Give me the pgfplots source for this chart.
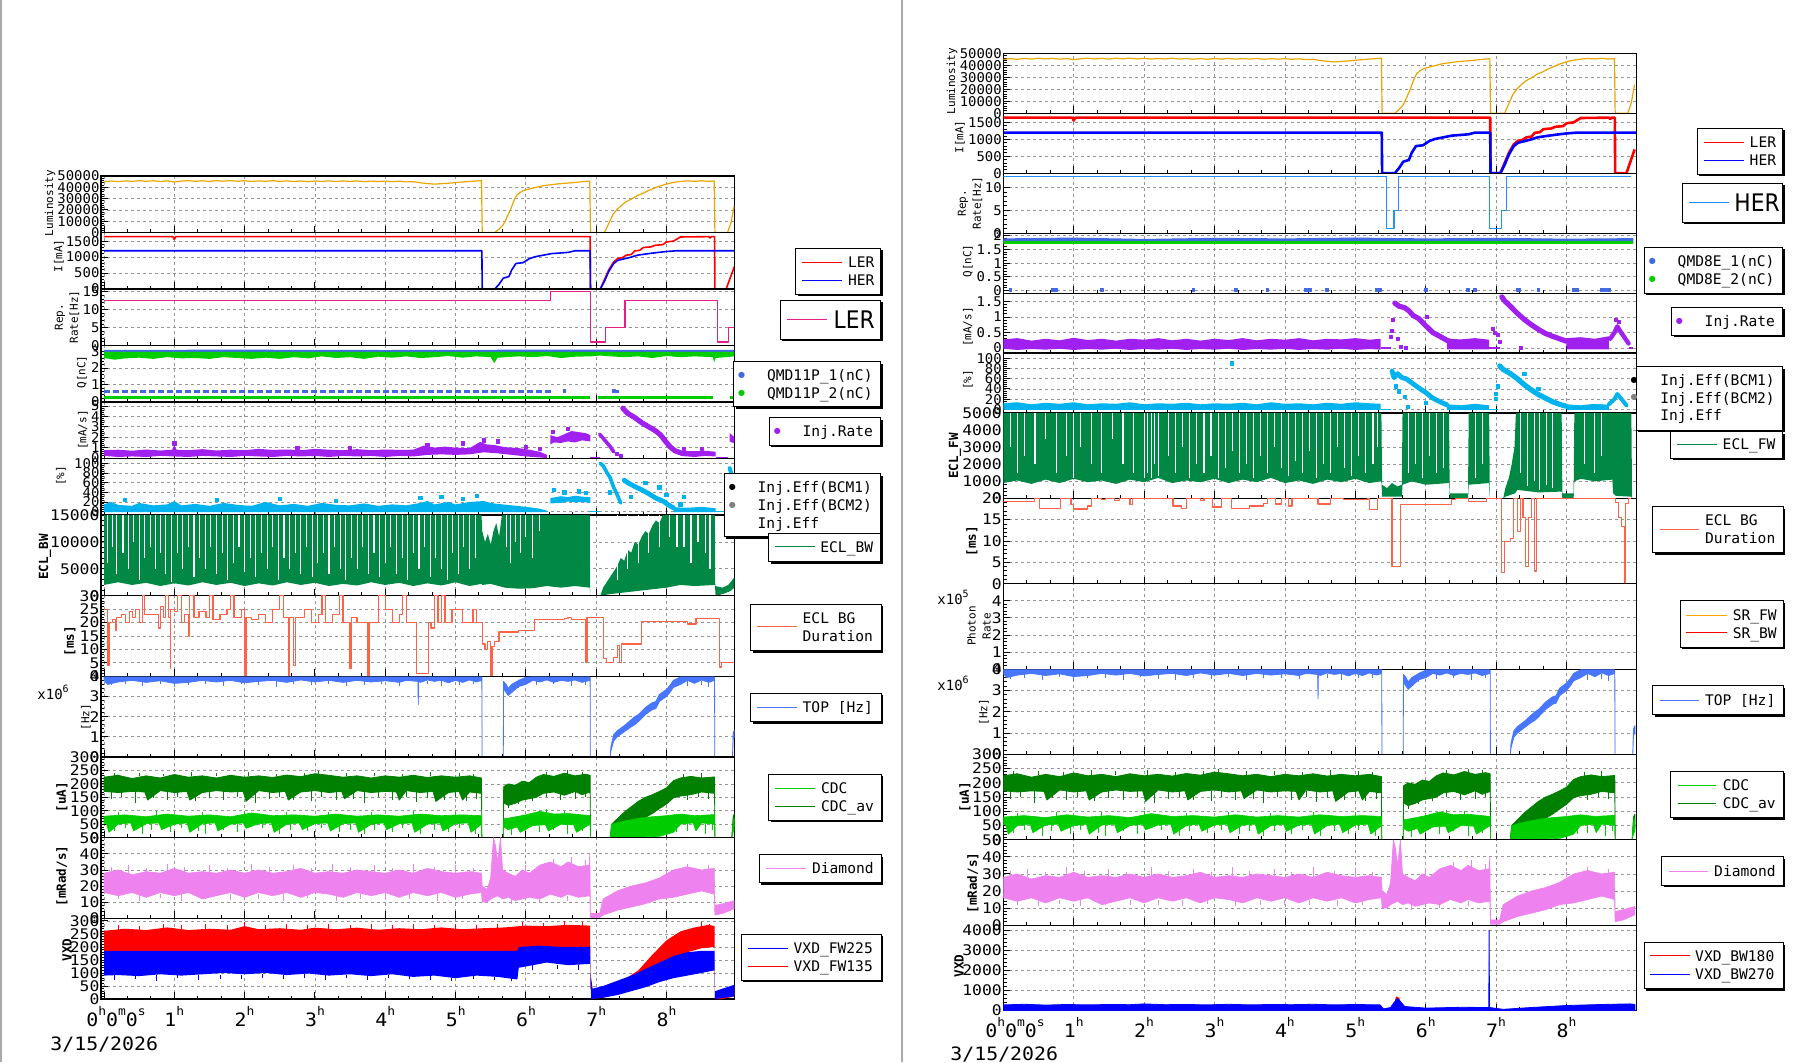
\documentclass[border=0pt]{standalone}
\usepackage{pgfplots}
\pgfplotsset{compat=1.18}
\usepackage{pgfplotstable}
\usepackage{fontspec}
\setmainfont{DejaVu Sans}
\setmonofont{DejaVu Sans Mono}
\newfontfamily\tickfont[FakeStretch=1.12]{DejaVu Sans Mono}
\newfontfamily\tickfontS[FakeStretch=1.04]{DejaVu Sans Mono}
\newfontfamily\timefont[FakeStretch=1.08]{DejaVu Sans Mono}
\newfontfamily\bigfont[FakeStretch=0.9]{DejaVu Sans}

\definecolor{lumc}{RGB}{235,165,0}
\definecolor{reppink}{RGB}{230,30,140}
\definecolor{rephb}{RGB}{30,144,255}
\definecolor{qblue}{RGB}{65,105,225}
\definecolor{qgreen}{RGB}{0,205,0}
\definecolor{injp}{RGB}{160,32,240}
\definecolor{effc}{RGB}{0,178,238}
\definecolor{eclg}{RGB}{0,136,68}
\definecolor{bgc}{RGB}{255,99,71}
\definecolor{topc}{RGB}{72,118,255}
\definecolor{cdcc}{RGB}{0,205,0}
\definecolor{cdcav}{RGB}{0,128,0}
\definecolor{diac}{RGB}{238,130,238}
\definecolor{gridc}{RGB}{150,150,150}
\definecolor{srfw}{RGB}{255,165,0}
\definecolor{canv}{RGB}{170,170,170}

\pgfplotsset{
 strip/.style={scale only axis, anchor=south west,
  xtick={0,1,2,3,4,5,6,7,8}, minor x tick num=2, xticklabels={},
  tick pos=left, tick align=inside,
  major tick length=3.5pt, minor tick length=1.7pt,
  every tick/.style={black, line width=0.45pt},
  xmajorgrids, ymajorgrids,
  major grid style={gridc, line width=0.4pt, dash pattern=on 1.5pt off 1.5pt},
  axis line style={line width=0.6pt},
  minor y tick num=4, scaled y ticks=false,
  yticklabel style={font=\tickfont\fontsize{7.3}{7.3}\selectfont, inner sep=0.6pt},
  /pgf/number format/1000 sep={},
  /pgf/number format/assume math mode=true,
  every axis plot/.append style={line join=round}},
 sm/.style={yticklabel style={font=\tickfontS\fontsize{6.7}{6.7}\selectfont}},
 L/.style 2 args={strip, xmin=-0.043, xmax=8.966, width=316.65pt, height=#2, at={(50.5pt,-#1)}},
 R/.style 2 args={strip, xmin=0, xmax=8.99, width=316.5pt, height=#2, at={(501.65pt,-#1)}},
 gaps/.style={draw=none, mark=none, error bars/.cd, y dir=plus, y explicit, error mark=none,
   error bar style={draw=white, line width=0.55pt}},
 spk/.style={draw=none, mark=none, error bars/.cd, y dir=plus, y explicit, error mark=none,
   error bar style={draw=#1, line width=0.5pt}},
}

% ---------------- data ----------------
\pgfplotstableread[row sep=\\]{t v\\
0 44800\\ 0.1 45600\\ 0.2 45000\\ 0.3 45700\\ 0.4 45200\\ 0.5 45900\\ 0.6 45300\\ 0.7 45800\\ 0.8 45100\\ 0.9 45700\\
1.0 44700\\ 1.1 45500\\ 1.2 45900\\ 1.3 45300\\ 1.4 45800\\ 1.5 45200\\ 1.6 45900\\ 1.7 45400\\ 1.8 46000\\ 1.9 45300\\
2.0 45800\\ 2.1 45200\\ 2.2 45700\\ 2.3 45300\\ 2.4 45900\\ 2.5 45200\\ 2.6 45700\\ 2.7 45100\\ 2.8 45600\\ 2.9 45000\\
3.0 45600\\ 3.1 45200\\ 3.2 45700\\ 3.3 45100\\ 3.4 45600\\ 3.5 45200\\ 3.6 45700\\ 3.7 45000\\ 3.8 45500\\ 3.9 45100\\
4.0 45500\\ 4.1 45000\\ 4.2 45400\\ 4.3 44800\\ 4.4 45000\\ 4.5 44000\\ 4.6 43300\\ 4.7 42800\\ 4.8 43200\\ 4.9 43600\\
5.0 44200\\ 5.1 44700\\ 5.2 45200\\ 5.3 45600\\ 5.37 45900\\ 5.38 0\\ 5.56 0\\ 5.62 3000\\ 5.68 7000\\ 5.72 12000\\
5.78 20000\\ 5.83 28000\\ 5.87 33000\\ 5.92 35500\\ 5.97 37200\\ 6.05 38500\\ 6.15 40000\\ 6.25 41500\\ 6.35 42200\\ 6.45 43000\\
6.55 43500\\ 6.65 44000\\ 6.75 44600\\ 6.85 45200\\ 6.91 45500\\ 6.92 0\\ 7.12 0\\ 7.18 8000\\ 7.24 16000\\ 7.3 20500\\
7.36 24000\\ 7.42 27000\\ 7.5 29500\\ 7.58 32500\\ 7.66 34500\\ 7.74 37000\\ 7.82 39000\\ 7.9 41000\\ 7.98 42500\\ 8.06 43800\\
8.14 44700\\ 8.22 45300\\ 8.3 45700\\ 8.4 45300\\ 8.5 45800\\ 8.6 45200\\ 8.68 45600\\ 8.69 0\\ 8.87 0\\ 8.92 9000\\ 8.966 24000\\
}\lumtab

\pgfplotstableread[row sep=\\]{t v\\
0 1640\\ 0.98 1640\\ 1.0 1555\\ 1.02 1640\\ 6.915 1640\\ 6.92 0\\ 7.06 0\\ 7.12 300\\ 7.18 600\\ 7.25 850\\ 7.31 960\\
7.37 980\\ 7.43 1060\\ 7.5 1080\\ 7.55 1195\\ 7.62 1210\\ 7.67 1300\\ 7.78 1320\\ 7.84 1370\\ 7.95 1390\\ 8.0 1475\\
8.1 1500\\ 8.2 1630\\ 8.6 1640\\ 8.62 1600\\ 8.64 1640\\ 8.685 1640\\ 8.69 0\\ 8.85 0\\ 8.966 700\\
}\lertab

\pgfplotstableread[row sep=\\]{t v\\
0 1200\\ 5.375 1200\\ 5.38 0\\ 5.56 0\\ 5.62 150\\ 5.68 340\\ 5.76 390\\ 5.8 600\\ 5.86 800\\ 5.96 825\\ 6.05 950\\
6.13 1010\\ 6.25 1060\\ 6.37 1110\\ 6.5 1130\\ 6.61 1150\\ 6.7 1200\\ 6.915 1200\\ 6.92 0\\ 7.06 0\\ 7.12 250\\ 7.18 550\\
7.25 800\\ 7.31 900\\ 7.43 960\\ 7.5 1000\\ 7.59 1060\\ 7.75 1110\\ 7.9 1150\\ 8.0 1175\\ 8.16 1200\\ 8.99 1200\\
}\hertab

\pgfplotstableread[row sep=\\]{t v\\
0 3.97\\ 5.375 3.97\\ 5.378 0\\ 5.68 0\\ 5.683 3.75\\ 5.72 3.6\\ 5.75 3.4\\ 5.8 3.6\\ 5.9 3.8\\ 6.0 3.95\\ 6.1 3.97\\
6.915 3.97\\ 6.918 0\\ 7.2 0\\ 7.21 0.5\\ 7.25 1.1\\ 7.3 1.3\\ 7.4 1.55\\ 7.5 1.85\\ 7.55 2.0\\ 7.6 2.1\\ 7.7 2.45\\
7.8 2.7\\ 7.85 2.75\\ 7.9 3.1\\ 8.0 3.35\\ 8.05 3.55\\ 8.1 3.8\\ 8.2 3.97\\ 8.685 3.97\\ 8.688 0\\ 8.94 0\\ 8.95 1.2\\ 8.97 1.35\\
8.97 1.0\\ 8.95 0.9\\ 8.94 0\\ 8.688 0\\ 8.685 3.8\\ 8.6 3.7\\ 8.5 3.82\\ 8.4 3.65\\ 8.3 3.8\\ 8.2 3.6\\ 8.1 3.45\\
8.05 3.2\\ 8.0 3.0\\ 7.9 2.75\\ 7.85 2.4\\ 7.8 2.35\\ 7.7 2.1\\ 7.6 1.75\\ 7.55 1.6\\ 7.5 1.5\\ 7.4 1.25\\ 7.3 1.0\\
7.25 0.8\\ 7.21 0.3\\ 7.2 0\\ 6.918 0\\ 6.915 3.8\\ 6.8 3.7\\ 6.7 3.82\\ 6.6 3.75\\ 6.5 3.8\\ 6.4 3.7\\ 6.3 3.82\\
6.2 3.72\\ 6.1 3.8\\ 6.0 3.6\\ 5.9 3.5\\ 5.8 3.2\\ 5.75 3.05\\ 5.7 3.3\\ 5.683 3.5\\ 5.68 0\\ 5.378 0\\ 5.375 3.8\\
5.3 3.72\\ 5.2 3.82\\ 5.1 3.7\\ 5.0 3.8\\ 4.9 3.68\\ 4.8 3.8\\ 4.7 3.75\\ 4.6 3.82\\ 4.5 3.7\\ 4.475 3.75\\ 4.47 2.6\\
4.465 3.75\\ 4.3 3.8\\ 4.2 3.7\\ 4.0 3.78\\ 3.8 3.72\\ 3.6 3.8\\ 3.4 3.7\\ 3.2 3.8\\ 3.0 3.72\\ 2.8 3.82\\ 2.6 3.7\\
2.4 3.8\\ 2.2 3.75\\ 2.0 3.68\\ 1.8 3.8\\ 1.6 3.72\\ 1.4 3.8\\ 1.2 3.7\\ 1.0 3.65\\ 0.8 3.78\\ 0.6 3.7\\ 0.4 3.8\\
0.2 3.72\\ 0.05 3.6\\ 0 3.8\\
}\toptab

\pgfplotstableread[row sep=\\]{t lo hi\\
0.1 3.55 3.75\\ 0.3 3.6 3.75\\ 0.55 3.5 3.75\\ 0.8 3.62 3.75\\ 1.0 3.45 3.75\\ 1.2 3.58 3.75\\ 1.45 3.6 3.75\\
1.7 3.5 3.75\\ 1.95 3.62 3.75\\ 2.2 3.55 3.75\\ 2.45 3.48 3.75\\ 2.7 3.6 3.75\\ 2.95 3.55 3.75\\ 3.2 3.62 3.75\\
3.45 3.5 3.75\\ 3.7 3.58 3.75\\ 3.95 3.6 3.75\\ 4.2 3.52 3.75\\ 4.6 3.6 3.75\\ 4.8 3.5 3.75\\ 5.05 3.58 3.75\\
5.25 3.6 3.75\\ 5.9 3.4 3.75\\ 6.15 3.55 3.75\\ 6.4 3.6 3.75\\ 6.65 3.5 3.75\\ 6.85 3.58 3.75\\ 8.3 3.5 3.75\\
8.5 3.55 3.75\\ 8.6 3.45 3.75\\
}\topspk

\pgfplotstableread[row sep=\\]{t v\\
0 225\\ 0.2 232\\ 0.4 220\\ 0.6 230\\ 0.8 222\\ 1.0 235\\ 1.2 225\\ 1.4 230\\ 1.6 222\\ 1.8 232\\ 2.0 225\\ 2.2 230\\
2.4 224\\ 2.6 233\\ 2.8 227\\ 3.0 238\\ 3.2 232\\ 3.4 225\\ 3.6 230\\ 3.8 222\\ 4.0 230\\ 4.2 225\\ 4.4 232\\ 4.6 224\\
4.8 230\\ 5.0 225\\ 5.2 230\\ 5.37 222\\ 5.375 0\\ 5.68 0\\ 5.685 190\\ 5.75 200\\ 5.85 195\\ 5.95 210\\ 6.05 205\\
6.15 225\\ 6.25 235\\ 6.4 228\\ 6.55 240\\ 6.7 230\\ 6.85 236\\ 6.915 232\\ 6.92 0\\ 7.2 0\\ 7.22 50\\ 7.3 70\\ 7.4 95\\
7.5 115\\ 7.6 135\\ 7.7 150\\ 7.8 160\\ 7.9 172\\ 8.0 185\\ 8.1 212\\ 8.2 222\\ 8.35 228\\ 8.5 222\\ 8.685 226\\ 8.69 0\\
8.93 0\\ 8.95 80\\ 8.97 90\\
8.97 40\\ 8.95 45\\ 8.93 0\\ 8.69 0\\ 8.685 165\\ 8.5 170\\ 8.35 160\\ 8.2 155\\ 8.1 148\\ 8.0 125\\ 7.9 108\\ 7.8 90\\
7.7 75\\ 7.6 68\\ 7.5 55\\ 7.4 45\\ 7.3 35\\ 7.22 20\\ 7.2 0\\ 6.92 0\\ 6.915 170\\ 6.8 160\\ 6.7 172\\ 6.55 158\\
6.4 170\\ 6.25 165\\ 6.15 150\\ 6.05 145\\ 5.95 140\\ 5.85 128\\ 5.75 120\\ 5.685 130\\ 5.68 0\\ 5.375 0\\ 5.37 165\\
5.2 170\\ 5.1 140\\ 5.05 172\\ 4.9 168\\ 4.72 135\\ 4.68 172\\ 4.5 168\\ 4.3 175\\ 4.2 140\\ 4.16 170\\ 4.0 172\\
3.8 168\\ 3.6 175\\ 3.42 145\\ 3.38 172\\ 3.2 168\\ 3.0 175\\ 2.8 170\\ 2.62 140\\ 2.58 172\\ 2.4 168\\ 2.2 175\\
2.02 135\\ 1.98 172\\ 1.8 170\\ 1.6 175\\ 1.4 168\\ 1.22 140\\ 1.18 172\\ 1.0 168\\ 0.8 175\\ 0.62 140\\ 0.58 170\\
0.4 172\\ 0.2 168\\ 0 172\\
}\cdcavtab

\pgfplotstableread[row sep=\\]{t lo hi\\
0.1 145 172\\ 0.25 150 172\\ 0.45 130 172\\ 0.7 148 172\\ 0.9 140 172\\ 1.05 150 172\\ 1.3 135 172\\ 1.5 148 172\\
1.7 140 172\\ 1.9 150 172\\ 2.15 130 172\\ 2.35 145 172\\ 2.5 150 172\\ 2.7 140 172\\ 2.95 135 172\\ 3.1 150 172\\
3.3 140 172\\ 3.55 145 172\\ 3.7 130 172\\ 3.9 150 172\\ 4.1 140 172\\ 4.3 150 172\\ 4.45 132 172\\ 4.6 148 172\\
4.85 140 172\\ 5.0 150 172\\ 5.15 138 172\\ 5.3 145 172\\ 5.75 110 150\\ 5.9 125 150\\ 6.1 135 160\\ 6.3 150 170\\
6.5 140 170\\ 6.7 145 170\\ 6.85 150 170\\ 8.3 140 165\\ 8.45 150 170\\ 8.6 145 170\\
0.15 228 240\\ 0.5 228 242\\ 0.85 228 238\\ 1.25 228 244\\ 1.6 228 240\\ 2.05 228 245\\ 2.45 228 238\\ 2.85 228 242\\
3.05 228 248\\ 3.45 228 240\\ 3.85 228 242\\ 4.25 228 238\\ 4.65 228 244\\ 5.05 228 240\\ 5.25 228 238\\ 6.3 230 245\\
6.6 232 250\\ 6.8 232 246\\ 8.25 222 238\\ 8.5 222 240\\
}\cdcavspk

\pgfplotstableread[row sep=\\]{t v\\
0 80\\ 0.3 85\\ 0.6 78\\ 0.9 88\\ 1.2 80\\ 1.5 85\\ 1.8 78\\ 2.1 92\\ 2.4 82\\ 2.7 85\\ 3.0 80\\ 3.3 88\\ 3.6 80\\
3.9 85\\ 4.2 80\\ 4.5 88\\ 4.8 82\\ 5.1 85\\ 5.37 82\\ 5.375 0\\ 5.68 0\\ 5.685 70\\ 5.8 75\\ 5.9 80\\ 6.0 85\\ 6.2 98\\
6.4 88\\ 6.6 90\\ 6.8 85\\ 6.915 82\\ 6.92 0\\ 7.2 0\\ 7.22 50\\ 7.4 62\\ 7.6 72\\ 7.8 78\\ 8.0 82\\ 8.2 88\\ 8.4 82\\
8.685 86\\ 8.69 0\\ 8.93 0\\ 8.95 60\\ 8.97 75\\
8.97 30\\ 8.95 20\\ 8.93 0\\ 8.69 0\\ 8.685 50\\ 8.5 55\\ 8.42 25\\ 8.38 55\\ 8.2 50\\ 8.1 20\\ 8.0 12\\ 7.9 5\\
7.22 0\\ 7.2 0\\ 6.92 0\\ 6.915 50\\ 6.72 20\\ 6.68 48\\ 6.5 50\\ 6.32 25\\ 6.28 48\\ 6.1 45\\ 5.92 20\\ 5.88 40\\
5.75 30\\ 5.685 40\\ 5.68 0\\ 5.375 0\\ 5.37 50\\ 5.22 20\\ 5.18 55\\ 5.0 52\\ 4.82 25\\ 4.78 55\\ 4.6 50\\ 4.42 20\\
4.38 55\\ 4.2 52\\ 4.02 30\\ 3.98 55\\ 3.8 50\\ 3.62 20\\ 3.58 55\\ 3.4 52\\ 3.22 25\\ 3.18 55\\ 3.0 52\\ 2.82 30\\
2.78 55\\ 2.6 50\\ 2.42 20\\ 2.38 55\\ 2.2 52\\ 2.02 35\\ 1.98 55\\ 1.8 50\\ 1.62 25\\ 1.58 55\\ 1.4 52\\ 1.22 20\\
1.18 55\\ 1.0 50\\ 0.82 30\\ 0.78 55\\ 0.6 52\\ 0.42 25\\ 0.38 55\\ 0.2 50\\ 0.07 20\\ 0.03 55\\ 0 52\\
}\cdctab

\pgfplotstableread[row sep=\\]{t lo hi\\
0.15 25 52\\ 0.3 35 52\\ 0.55 15 52\\ 0.68 30 52\\ 0.95 20 52\\ 1.1 35 52\\ 1.35 25 52\\ 1.45 15 52\\ 1.7 30 52\\
1.9 20 52\\ 2.25 35 52\\ 2.5 15 52\\ 2.65 30 52\\ 2.9 25 52\\ 3.1 35 52\\ 3.35 20 52\\ 3.5 30 52\\ 3.7 15 52\\
3.85 30 52\\ 4.1 20 52\\ 4.25 35 52\\ 4.5 15 52\\ 4.7 30 52\\ 4.9 20 52\\ 5.05 35 52\\ 5.28 15 52\\ 5.8 10 40\\
5.95 25 45\\ 6.2 20 45\\ 6.4 30 50\\ 6.6 15 50\\ 6.8 25 50\\ 8.15 20 50\\ 8.3 25 50\\ 8.55 15 50\\ 8.65 30 50\\
0.2 82 95\\ 0.75 80 98\\ 1.4 82 96\\ 2.0 82 100\\ 2.6 82 95\\ 3.2 82 97\\ 3.8 82 95\\ 4.4 82 99\\ 5.0 82 96\\
6.3 88 105\\ 6.55 88 100\\
}\cdcspk

\pgfplotstableread[row sep=\\]{t v\\
0 28\\ 0.2 30\\ 0.4 27\\ 0.6 29\\ 0.8 28\\ 1.0 31\\ 1.2 28\\ 1.4 29\\ 1.6 28\\ 1.8 30\\ 2.0 28\\ 2.2 30\\ 2.4 28\\
2.6 29\\ 2.8 31\\ 3.0 28\\ 3.2 29\\ 3.4 28\\ 3.6 30\\ 3.8 29\\ 4.0 28\\ 4.2 30\\ 4.4 28\\ 4.6 31\\ 4.8 29\\ 5.0 28\\
5.2 29\\ 5.37 28\\ 5.38 20\\ 5.45 18\\ 5.5 25\\ 5.54 50\\ 5.57 45\\ 5.6 35\\ 5.64 50\\ 5.67 30\\ 5.75 28\\ 5.85 26\\
5.95 30\\ 6.05 28\\ 6.2 33\\ 6.35 35\\ 6.5 32\\ 6.6 35\\ 6.75 32\\ 6.9 33\\ 6.91 40\\ 6.92 3\\ 7.05 3\\ 7.1 12\\
7.3 17\\ 7.5 20\\ 7.7 22\\ 7.9 25\\ 8.1 30\\ 8.3 32\\ 8.5 30\\ 8.68 31\\ 8.69 8\\ 8.8 9\\ 8.97 11\\
8.97 6\\ 8.8 3\\ 8.69 2\\ 8.68 15\\ 8.5 17\\ 8.3 15\\ 8.1 13\\ 7.9 12\\ 7.7 9\\ 7.5 7\\ 7.3 5\\ 7.1 2\\ 7.05 0.5\\
6.92 0.5\\ 6.91 14\\ 6.75 13\\ 6.6 15\\ 6.5 13\\ 6.35 15\\ 6.2 12\\ 6.05 13\\ 5.95 12\\ 5.85 11\\ 5.75 13\\ 5.67 12\\
5.6 14\\ 5.5 12\\ 5.45 10\\ 5.38 10\\ 5.37 16\\ 5.2 15\\ 5.0 13\\ 4.8 16\\ 4.6 14\\ 4.4 16\\ 4.2 13\\ 4.0 16\\ 3.8 14\\
3.6 16\\ 3.4 13\\ 3.2 15\\ 3.0 16\\ 2.8 13\\ 2.6 16\\ 2.4 14\\ 2.2 16\\ 2.0 13\\ 1.8 16\\ 1.6 14\\ 1.4 12\\ 1.2 16\\
1.0 14\\ 0.8 16\\ 0.6 13\\ 0.4 16\\ 0.2 14\\ 0 16\\
}\diatab

\pgfplotstableread[row sep=\\]{t lo hi\\
0.1 28 32\\ 0.35 28 33\\ 0.6 28 31\\ 0.9 28 34\\ 1.15 28 32\\ 1.5 28 33\\ 1.75 28 31\\ 2.1 28 34\\ 2.35 28 32\\
2.7 28 33\\ 2.95 28 31\\ 3.25 28 34\\ 3.5 28 32\\ 3.85 28 33\\ 4.1 28 31\\ 4.4 28 34\\ 4.7 28 32\\ 5.0 28 33\\
5.25 28 31\\ 6.0 28 33\\ 6.4 32 37\\ 6.65 32 38\\ 6.85 32 36\\ 8.0 28 31\\ 8.3 30 34\\ 8.6 30 33\\
0.2 12 15\\ 0.5 11 15\\ 0.8 12.5 15\\ 1.1 11 15\\ 1.45 12 15\\ 1.8 11.5 15\\ 2.2 12 15\\ 2.55 11 15\\ 2.9 12.5 15\\
3.3 11 15\\ 3.65 12 15\\ 4.0 11.5 15\\ 4.35 12 15\\ 4.75 11 15\\ 5.1 12 15\\ 5.8 9 12\\ 6.2 10 13\\ 6.6 11 14\\
}\diaspk

\pgfplotstableread[row sep=\\]{t v\\
0 15000\\ 5.37 15000\\ 5.38 12000\\ 5.42 10000\\ 5.46 11500\\ 5.5 9500\\ 5.54 12000\\ 5.58 13500\\ 5.62 11000\\
5.66 15000\\ 6.91 15000\\ 6.915 0\\ 7.06 0\\ 7.1 1500\\ 7.15 2500\\ 7.2 3500\\ 7.25 4500\\ 7.3 5500\\ 7.35 7000\\
7.4 6500\\ 7.45 8500\\ 7.5 8000\\ 7.55 10000\\ 7.6 9500\\ 7.65 11000\\ 7.7 12000\\ 7.75 11500\\ 7.8 13000\\
7.85 14000\\ 7.9 13500\\ 7.95 15000\\ 8.69 15000\\ 8.695 1800\\ 8.8 1500\\ 8.88 2000\\ 8.93 2800\\ 8.97 3500\\
8.97 1500\\ 8.9 800\\ 8.8 300\\ 8.7 0\\ 8.69 2000\\ 8.4 1800\\ 8.2 2000\\ 8.0 1500\\ 7.8 1200\\ 7.6 900\\ 7.4 600\\
7.2 300\\ 7.06 0\\ 6.915 0\\ 6.91 1500\\ 6.7 1800\\ 6.5 1500\\ 6.3 1800\\ 6.1 1400\\ 5.9 1300\\ 5.7 1500\\ 5.5 2200\\
5.38 2000\\ 5.37 2200\\ 5.2 1800\\ 5.0 2500\\ 4.8 1900\\ 4.6 2300\\ 4.4 1800\\ 4.2 2400\\ 4.0 2000\\ 3.8 2500\\
3.6 1900\\ 3.4 2200\\ 3.2 1800\\ 3.0 2400\\ 2.8 2000\\ 2.6 2500\\ 2.4 1900\\ 2.2 2300\\ 2.0 1800\\ 1.8 2400\\
1.6 2000\\ 1.4 2500\\ 1.2 1900\\ 1.0 2300\\ 0.8 1800\\ 0.6 2400\\ 0.4 2000\\ 0.2 2500\\ 0 2000\\
}\eclbwtab

\pgfplotstableread[row sep=\\]{t d\\
0.05 6000\\ 0.12 9000\\ 0.18 4000\\ 0.27 8000\\ 0.35 5000\\ 0.42 10000\\ 0.5 3000\\ 0.58 7000\\ 0.66 9000\\ 0.73 5000\\
0.8 8000\\ 0.88 4000\\ 0.96 2500\\ 1.05 8000\\ 1.12 5000\\ 1.2 9000\\ 1.28 3500\\ 1.36 7000\\ 1.44 5000\\ 1.52 9000\\
1.6 4000\\ 1.68 8000\\ 1.76 3000\\ 1.84 6000\\ 1.92 9000\\ 2.0 4500\\ 2.08 7000\\ 2.16 3500\\ 2.24 8000\\ 2.32 5000\\
2.4 9000\\ 2.48 3000\\ 2.56 7000\\ 2.64 5000\\ 2.72 8000\\ 2.8 4000\\ 2.88 9000\\ 2.96 3500\\ 3.04 6000\\ 3.12 8000\\
3.2 4000\\ 3.28 9000\\ 3.36 5000\\ 3.44 3000\\ 3.52 7000\\ 3.6 5000\\ 3.68 9000\\ 3.76 4000\\ 3.84 8000\\ 3.92 3500\\
4.0 6000\\ 4.08 9000\\ 4.16 4000\\ 4.24 7000\\ 4.32 3000\\ 4.4 8000\\ 4.48 5000\\ 4.56 9000\\ 4.64 3500\\ 4.72 7000\\
4.8 5000\\ 4.88 3000\\ 4.96 8000\\ 5.04 4000\\ 5.12 9000\\ 5.2 5000\\ 5.28 7000\\ 5.72 9000\\ 5.78 6000\\ 5.85 10000\\
5.92 8000\\ 6.0 11000\\ 6.1 7000\\ 6.2 12000\\ 7.3 3000\\ 7.45 5000\\ 7.6 6000\\ 7.75 8000\\ 7.9 9000\\ 8.05 11000\\
8.15 9000\\ 8.25 9000\\ 8.35 6000\\ 8.45 10000\\ 8.55 8000\\ 8.62 5000\\
}\eclbwgaps

\pgfplotstableread[row sep=\\]{t v\\
0 5000\\ 5.37 5000\\ 5.38 800\\ 5.45 600\\ 5.52 900\\ 5.6 700\\ 5.66 800\\ 5.67 5000\\ 6.33 5000\\ 6.34 300\\
6.6 300\\ 6.61 5000\\ 6.9 5000\\ 6.91 0\\ 7.1 0\\ 7.13 600\\ 7.18 1200\\ 7.22 2000\\ 7.26 3000\\ 7.28 5000\\
7.93 5000\\ 7.94 300\\ 8.1 300\\ 8.11 5000\\ 8.92 5000\\ 8.93 0\\
8.92 100\\ 8.7 150\\ 8.66 300\\ 8.65 1100\\ 8.4 1000\\ 8.2 1150\\ 8.11 1000\\ 8.1 0\\ 7.94 0\\ 7.93 400\\ 7.6 350\\
7.3 500\\ 7.27 300\\ 7.13 100\\ 7.1 0\\ 6.91 0\\ 6.9 900\\ 6.61 800\\ 6.6 0\\ 6.34 0\\ 6.33 900\\ 6.0 800\\ 5.8 1000\\
5.67 800\\ 5.66 100\\ 5.38 100\\ 5.37 1000\\ 5.2 900\\ 5.0 1150\\ 4.8 950\\ 4.6 1100\\ 4.4 850\\ 4.2 1050\\ 4.0 900\\
3.8 1200\\ 3.6 950\\ 3.4 1100\\ 3.2 900\\ 3.0 1150\\ 2.8 950\\ 2.6 1050\\ 2.4 900\\ 2.2 1200\\ 2.0 950\\ 1.8 1100\\
1.6 850\\ 1.4 1050\\ 1.2 950\\ 1.0 1150\\ 0.8 900\\ 0.6 1100\\ 0.4 850\\ 0.2 1050\\ 0 900\\
}\eclfwtab

\pgfplotstableread[row sep=\\]{t d\\
0.1 3000\\ 0.2 1500\\ 0.3 2500\\ 0.45 2000\\ 0.6 3500\\ 0.75 1500\\ 0.9 2500\\ 1.0 1200\\ 1.1 3000\\ 1.25 2000\\
1.4 1500\\ 1.55 3500\\ 1.7 2000\\ 1.85 1500\\ 2.0 1200\\ 2.05 1500\\ 2.1 1200\\ 2.15 2000\\ 2.2 1300\\ 2.35 2500\\
2.45 1500\\ 2.55 3000\\ 2.65 1200\\ 2.75 2000\\ 2.85 1500\\ 2.95 2500\\ 3.05 1200\\ 3.15 1800\\ 3.25 2800\\ 3.35 1500\\
3.45 2000\\ 3.55 1200\\ 3.65 2500\\ 3.75 1500\\ 3.85 3000\\ 3.95 1800\\ 4.05 1300\\ 4.15 2200\\ 4.25 1500\\ 4.35 2800\\
4.45 1200\\ 4.55 2000\\ 4.65 1500\\ 4.75 3000\\ 4.85 1800\\ 4.95 1300\\ 5.05 2500\\ 5.15 1500\\ 5.25 2000\\ 5.32 3000\\
5.75 1500\\ 5.85 2000\\ 5.95 1200\\ 6.05 2500\\ 6.15 1500\\ 6.25 1800\\ 6.7 1200\\ 6.8 2000\\ 7.35 1500\\ 7.45 700\\
7.55 1000\\ 7.62 500\\ 7.72 800\\ 7.8 600\\ 8.25 2000\\ 8.4 1500\\ 8.5 2500\\
}\eclfwgaps

\pgfplotstableread[row sep=\\]{t v\\
0 262\\ 0.3 270\\ 0.6 265\\ 0.9 275\\ 1.2 265\\ 1.5 270\\ 1.8 266\\ 2.0 280\\ 2.2 268\\ 2.5 272\\ 2.8 266\\ 3.0 274\\
3.3 268\\ 3.6 274\\ 3.9 266\\ 4.2 272\\ 4.5 268\\ 4.8 275\\ 5.1 268\\ 5.4 272\\ 5.7 275\\ 6.0 282\\ 6.3 280\\ 6.6 285\\
6.915 282\\ 6.92 40\\ 7.0 25\\ 7.2 45\\ 7.4 75\\ 7.6 110\\ 7.8 170\\ 8.0 225\\ 8.2 260\\ 8.4 275\\ 8.6 285\\ 8.685 280\\
8.69 20\\ 8.8 25\\ 8.97 50\\ 8.97 10\\ 8.8 0\\ 8.69 0\\ 8.685 200\\ 8.5 195\\ 8.3 180\\ 8.1 150\\ 7.9 110\\ 7.7 70\\
7.5 40\\ 7.3 20\\ 7.1 5\\ 6.93 0\\ 6.915 195\\ 6.5 195\\ 6.0 195\\ 5.9 185\\ 0 185\\
}\vxdredtab

\pgfplotstableread[row sep=\\]{t v\\
0 185\\ 5.88 185\\ 5.9 200\\ 6.2 205\\ 6.5 200\\ 6.915 200\\ 6.92 100\\ 6.95 40\\ 7.1 50\\ 7.3 70\\ 7.5 90\\ 7.7 115\\
7.9 140\\ 8.1 165\\ 8.3 180\\ 8.5 185\\ 8.685 185\\ 8.69 30\\ 8.8 40\\ 8.97 55\\ 8.97 10\\ 8.69 0\\ 8.685 110\\ 8.5 100\\
8.3 90\\ 8.1 80\\ 7.9 65\\ 7.7 45\\ 7.5 30\\ 7.3 15\\ 7.1 5\\ 6.93 0\\ 6.915 135\\ 6.6 130\\ 6.3 140\\ 6.0 125\\ 5.9 120\\
5.88 75\\ 5.6 85\\ 5.3 90\\ 5.0 80\\ 4.7 90\\ 4.4 85\\ 4.1 95\\ 3.8 88\\ 3.5 95\\ 3.2 90\\ 2.9 98\\ 2.6 92\\ 2.3 100\\
2.0 95\\ 1.7 100\\ 1.4 95\\ 1.1 90\\ 0.8 95\\ 0.5 88\\ 0.2 92\\ 0 90\\
}\vxdbluetab

\pgfplotstableread[row sep=\\]{t lo hi\\
0.2 265 285\\ 0.5 265 282\\ 0.85 265 290\\ 1.1 265 284\\ 1.45 265 288\\ 1.75 265 283\\ 2.0 270 295\\ 2.3 265 284\\
2.6 265 289\\ 2.9 265 283\\ 3.2 265 290\\ 3.5 265 285\\ 3.8 265 288\\ 4.1 265 283\\ 4.4 265 290\\ 4.7 265 285\\
5.0 265 288\\ 5.3 265 284\\ 5.6 268 290\\ 5.95 275 295\\ 6.25 275 292\\ 6.55 278 298\\ 6.8 278 294\\ 8.5 275 295\\
8.62 275 290\\
}\vxdredspk

\pgfplotstableread[row sep=\\]{t lo hi\\
0.15 72 92\\ 0.45 78 92\\ 0.75 70 92\\ 1.05 80 92\\ 1.35 73 92\\ 1.65 78 92\\ 1.95 75 92\\ 2.25 82 96\\ 2.55 76 92\\
2.85 80 95\\ 3.15 74 92\\ 3.45 79 92\\ 3.75 72 90\\ 4.05 80 92\\ 4.35 75 88\\ 4.65 73 88\\ 4.95 70 82\\ 5.25 76 88\\
5.55 72 85\\ 5.8 68 80\\ 6.1 110 130\\ 6.45 115 132\\ 6.75 112 132\\
}\vxdbluespk

\pgfplotstableread[row sep=\\]{t v\\
0 280\\ 0.3 310\\ 0.6 270\\ 0.9 300\\ 1.2 280\\ 1.5 300\\ 1.8 290\\ 2.0 330\\ 2.3 290\\ 2.6 300\\ 2.9 280\\ 3.2 310\\
3.5 280\\ 3.8 300\\ 4.1 290\\ 4.4 310\\ 4.7 280\\ 5.0 300\\ 5.35 280\\ 5.4 80\\ 5.5 150\\ 5.55 400\\ 5.6 600\\ 5.64 450\\
5.7 200\\ 6.0 120\\ 6.5 160\\ 6.895 150\\ 6.9 4000\\ 6.905 150\\ 7.1 60\\ 7.5 150\\ 8.0 250\\ 8.5 300\\ 8.9 330\\ 8.97 300\\
}\vxdbwtab

\newcommand{\ylab}{\ttfamily\fontsize{5.5}{7.5}\selectfont}
\newcommand{\ylabb}{\ttfamily\bfseries\fontsize{6.3}{7}\selectfont}
\newcommand{\lfont}{\ttfamily\fontsize{7.3}{8}\selectfont}
\newcommand{\tfont}{\timefont\fontsize{9.2}{10}\selectfont}
\newcommand{\sh}[1]{\raisebox{5.5pt}{\fontsize{6}{6}\selectfont #1}}
\newcommand{\lgbox}[4]{\fill[black] ({#1+2},{#2+2}) rectangle ({#3+2},{#4+2});
  \draw[black, line width=0.5pt, fill=white] (#1,#2) rectangle (#3,#4);}
\newcommand{\lgtext}[3]{\node[anchor=base west, inner sep=0pt, font=\lfont] at (#1,{#2+5.3}) {#3};}
\newcommand{\lgdot}[3]{\node[inner sep=0pt, text=#1, font=\rmfamily\fontsize{4}{4}\selectfont] at (#2,#3) {●};}
\newcommand{\lgline}[4]{\draw[#1, line width=0.5pt] (#2,#4) -- (#3,#4);}

\begin{document}
\begin{tikzpicture}
\path[use as bounding box] (0pt,0pt) rectangle (903pt,-531pt);

% ================= LEFT PANEL =================
\begin{axis}[L={116.25pt}{28.25pt}, sm, ymin=0, ymax=50000, ytick={0,10000,...,50000}]
\addplot[lumc, line width=0.6pt] table[x=t,y=v] {\lumtab};
\end{axis}

\begin{axis}[L={144.5pt}{28.25pt}, sm, ymin=0, ymax=1770, ytick={0,500,1000,1500}]
\addplot[red, line width=0.8pt] table[x=t,y=v] {\lertab};
\addplot[blue, line width=0.8pt] table[x=t,y=v] {\hertab};
\end{axis}

\begin{axis}[L={172.75pt}{28.25pt}, sm, ymin=0, ymax=15.8, ytick={0,5,10,15}]
\addplot[reppink, line width=0.6pt, const plot] coordinates {(0,12.5) (6.35,15) (6.92,1) (7.13,5) (7.41,12.5) (8.73,1) (8.88,5) (8.966,5)};
\end{axis}

\begin{axis}[L={201pt}{28.25pt}, sm, ymin=-0.04, ymax=3.35, ytick={0,1,2,3}]
\addplot[qblue, fill=qblue, draw=none] coordinates {(0,3.09) (2,3.1) (4,3.08) (6,3.1) (8.97,3.09) (8.97,2.93) (0,2.93)} -- cycle;
\addplot[qgreen, fill=qgreen, draw=none] coordinates {(0,2.97) (8.97,2.97) (8.97,2.7) (8.7,2.6) (8.68,2.35) (8.66,2.65) (8.4,2.7) (8.2,2.65) (8.0,2.72) (7.8,2.6) (7.6,2.7) (7.4,2.65) (7.2,2.7) (7.05,2.75) (6.92,2.7) (6.7,2.68) (6.5,2.6) (6.3,2.72) (6.1,2.65) (5.9,2.7) (5.6,2.62) (5.55,2.3) (5.5,2.65) (5.3,2.7) (5.1,2.62) (4.9,2.72) (4.7,2.65) (4.5,2.6) (4.3,2.7) (4.1,2.62) (3.9,2.68) (3.7,2.55) (3.5,2.65) (3.3,2.6) (3.1,2.7) (2.9,2.58) (2.7,2.65) (2.5,2.55) (2.3,2.62) (2.1,2.55) (1.9,2.6) (1.7,2.65) (1.5,2.55) (1.3,2.6) (1.1,2.58) (0.9,2.65) (0.7,2.55) (0.5,2.62) (0.3,2.58) (0.15,2.5) (0,2.6)} -- cycle;
\addplot[qblue, line width=1.3pt, dash pattern=on 3pt off 1.5pt] coordinates {(0,0.6) (6.4,0.6)};
\addplot[qblue, only marks, mark=square*, mark size=0.7pt] coordinates {(7.25,0.62) (7.3,0.6) (6.55,0.62)};
\addplot[qgreen, line width=1.4pt, unbounded coords=jump] coordinates {(0,0.22) (6.92,0.22) (6.92,nan) (7.02,0.22) (8.66,0.22) (8.66,nan) (8.9,0.22) (8.97,0.22)};
\end{axis}

\begin{axis}[L={229.25pt}{28.25pt}, sm, ymin=-0.05, ymax=5.4, ytick={0,1,2,3,4,5}]
\addplot[injp, fill=injp, draw=none] coordinates {(0,0.75) (0.2,0.8) (0.4,0.7) (0.6,0.82) (0.8,0.72) (0.97,0.8) (1.0,1.3) (1.03,0.8) (1.2,0.75) (1.4,0.85) (1.6,0.72) (1.8,0.8) (2.0,0.75) (2.2,0.88) (2.4,0.78) (2.6,0.82) (2.8,0.75) (3.0,0.88) (3.2,0.8) (3.4,0.75) (3.6,0.85) (3.8,0.75) (4.0,0.82) (4.2,0.78) (4.4,0.8) (4.55,1.2) (4.7,1.0) (4.85,1.1) (5.0,1.0) (5.2,0.95) (5.35,1.55) (5.45,1.3) (5.55,1.25) (5.7,1.05) (5.9,0.95) (6.05,0.8) (6.2,0.6) (6.3,0.3) (6.3,0.0) (6.2,0.05) (6.0,0.15) (5.8,0.3) (5.6,0.45) (5.4,0.55) (5.2,0.35) (5.0,0.3) (4.8,0.35) (4.6,0.3) (4.4,0.15) (4.2,0.2) (4.0,0.1) (3.8,0.2) (3.6,0.15) (3.4,0.2) (3.2,0.1) (3.0,0.2) (2.8,0.15) (2.6,0.2) (2.4,0.1) (2.2,0.15) (2.0,0.2) (1.8,0.1) (1.6,0.15) (1.4,0.2) (1.2,0.1) (1.0,0.15) (0.8,0.2) (0.6,0.1) (0.4,0.15) (0.2,0.1) (0,0.2)} -- cycle;
\addplot[injp, fill=injp, draw=none] coordinates {(6.35,2.2) (6.45,2.0) (6.55,2.3) (6.65,2.6) (6.75,2.5) (6.85,2.4) (6.92,2.2) (6.92,1.6) (6.8,1.7) (6.7,1.5) (6.6,1.6) (6.5,1.45) (6.4,1.5) (6.35,1.3)} -- cycle;
\addplot[injp, line width=0.8pt, unbounded coords=jump] coordinates {(6.92,0) (7.05,0) (7.05,nan) (8.7,0) (8.88,0)};
\addplot[injp, line width=1.8pt, line cap=round] coordinates {(7.05,2.3) (7.1,1.9) (7.15,1.5) (7.2,1.1) (7.25,0.6)};
\addplot[injp, line width=2.6pt, line cap=round] coordinates {(7.38,4.8) (7.45,4.3) (7.55,3.9) (7.65,3.4) (7.75,3.0) (7.85,2.6) (7.92,2.2) (8.0,1.5) (8.05,1.1) (8.12,0.7) (8.2,0.5)};
\addplot[injp, fill=injp, draw=none] coordinates {(8.2,0.7) (8.4,0.65) (8.55,0.7) (8.7,0.6) (8.7,0.15) (8.55,0.2) (8.4,0.1) (8.2,0.2)} -- cycle;
\addplot[injp, fill=injp, draw=none] coordinates {(8.9,2.4) (8.97,2.0) (8.97,1.4) (8.9,1.6)} -- cycle;
\addplot[injp, only marks, mark=square*, mark size=0.8pt] coordinates {(1.0,1.4) (2.75,1.0) (3.5,0.95) (4.6,1.3) (5.1,1.4) (5.4,1.7) (5.6,1.6) (6.0,1.1) (6.38,2.5) (6.6,2.8) (6.2,0.9) (7.3,0.4) (7.35,0.2) (8.25,0.9) (8.5,0.9)};
\end{axis}

\begin{axis}[L={257.5pt}{28.25pt}, sm, ymin=-7, ymax=110, ytick={0,20,...,100}]
\addplot[effc, fill=effc, draw=none] coordinates {(0,15) (0.1,20) (0.2,14) (0.4,12) (0.5,18) (0.7,13) (0.9,15) (1.0,22) (1.1,13) (1.3,16) (1.5,12) (1.7,18) (1.9,14) (2.1,12) (2.3,20) (2.5,13) (2.7,16) (2.9,12) (3.1,18) (3.3,14) (3.5,13) (3.7,17) (3.9,12) (4.1,15) (4.3,13) (4.5,18) (4.6,22) (4.7,15) (4.9,20) (5.0,15) (5.2,20) (5.4,22) (5.5,18) (5.6,16) (5.8,13) (6.0,10) (6.2,6) (6.3,2) (6.3,-1) (0,-1)} -- cycle;
\addplot[effc, fill=effc, draw=none] coordinates {(6.35,28) (6.5,32) (6.6,30) (6.7,33) (6.8,31) (6.92,30) (6.92,18) (6.8,20) (6.7,19) (6.6,21) (6.5,18) (6.35,17)} -- cycle;
\addplot[effc, line width=0.8pt, unbounded coords=jump] coordinates {(6.92,0) (7.05,0) (7.05,nan) (8.7,0) (8.88,0)};
\addplot[effc, line width=1.8pt, line cap=round] coordinates {(7.06,100) (7.1,95) (7.15,82) (7.2,70) (7.25,50) (7.3,35) (7.35,18)};
\addplot[effc, line width=2.4pt, line cap=round] coordinates {(7.4,65) (7.45,60) (7.55,52) (7.65,45) (7.75,37) (7.85,28) (7.95,22) (8.05,12) (8.1,8)};
\addplot[effc, fill=effc, draw=none] coordinates {(8.1,9) (8.3,8) (8.5,10) (8.7,7) (8.7,-1) (8.1,-1)} -- cycle;
\addplot[effc, line width=2pt, line cap=round] coordinates {(8.9,90) (8.93,75) (8.966,55)};
\addplot[effc, only marks, mark=square*, mark size=0.8pt] coordinates {(0.3,25) (1.6,24) (2.5,26) (3.3,22) (4.5,28) (4.8,30) (5.1,26) (5.3,32) (6.4,45) (6.55,40) (6.75,42) (6.85,38) (7.2,40) (7.5,30) (7.7,60) (7.9,50) (8.0,35) (8.2,15) (8.25,30) (8.9,60) (8.95,40)};
\end{axis}

\begin{axis}[L={297.85pt}{40.35pt}, ymin=0, ymax=15000, ytick={0,5000,10000,15000}]
\addplot[fill=eclg, draw=none] table[x=t,y=v] {\eclbwtab} -- cycle;
\addplot[gaps] table[x=t, y=d, y error expr={15000-\thisrow{d}}] {\eclbwgaps};
\end{axis}

\begin{axis}[L={338.15pt}{40.3pt}, ymin=0, ymax=30, ytick={0,5,...,30}]
\addplot[bgc, line width=0.6pt, const plot] coordinates {(0,25) (0.05,4) (0.07,20) (0.12,21) (0.16,17) (0.18,22) (0.25,23) (0.3,20) (0.36,24) (0.4,22) (0.45,25) (0.5,20) (0.55,30) (0.58,23) (0.75,23) (0.78,18) (0.8,26) (0.85,22) (0.88,30) (0.92,22) (0.94,3) (0.95,25) (1.0,24) (1.05,30) (1.1,20) (1.15,23) (1.2,15) (1.22,30) (1.28,22) (1.35,24) (1.45,22) (1.5,30) (1.55,21) (1.65,23) (1.75,25) (1.8,30) (1.85,22) (1.95,25) (2.0,0) (2.02,22) (2.1,21) (2.2,23) (2.3,20) (2.4,25) (2.5,30) (2.55,22) (2.62,0) (2.64,22) (2.7,4) (2.72,22) (2.85,25) (2.95,20) (3.05,23) (3.1,30) (3.15,20) (3.25,23) (3.35,30) (3.4,20) (3.5,3) (3.52,22) (3.6,20) (3.75,0) (3.77,20) (3.9,30) (4.0,25) (4.1,20) (4.2,23) (4.25,30) (4.3,20) (4.45,1) (4.62,20) (4.65,18) (4.7,30) (4.75,20) (4.8,30) (4.85,20) (4.95,25) (5.1,20) (5.25,25) (5.3,20) (5.38,12) (5.42,10) (5.46,13) (5.5,0) (5.52,11) (5.56,13) (5.62,16.5) (5.9,17) (6.12,21) (6.55,21.5) (6.6,22) (6.65,21) (6.85,5) (6.87,22) (7.1,6.5) (7.15,5) (7.25,7) (7.3,11.5) (7.33,5) (7.36,12) (7.65,20.5) (8.3,19.5) (8.42,21.5) (8.75,3.5) (8.78,5) (8.966,5)};
\end{axis}

\begin{axis}[L={378.5pt}{40.35pt}, ymin=0, ymax=4, ytick={0,1,2,3,4}]
\addplot[fill=topc, draw=topc, line width=0.4pt] table[x=t,y=v] {\toptab} -- cycle;
\addplot[spk=topc] table[x=t, y=lo, y error expr={\thisrow{hi}-\thisrow{lo}}] {\topspk};
\end{axis}

\begin{axis}[L={418.85pt}{40.35pt}, ymin=0, ymax=300, ytick={0,50,...,300}]
\addplot[fill=cdcav, draw=cdcav, line width=0.4pt] table[x=t,y=v] {\cdcavtab} -- cycle;
\addplot[spk=cdcav] table[x=t, y=lo, y error expr={\thisrow{hi}-\thisrow{lo}}] {\cdcavspk};
\addplot[fill=cdcc, draw=cdcc, line width=0.3pt] table[x=t,y=v] {\cdctab} -- cycle;
\addplot[spk=cdcc] table[x=t, y=lo, y error expr={\thisrow{hi}-\thisrow{lo}}] {\cdcspk};
\end{axis}

\begin{axis}[L={459.15pt}{40.3pt}, ymin=0, ymax=50, ytick={0,10,...,50}]
\addplot[fill=diac, draw=diac, line width=0.3pt] table[x=t,y=v] {\diatab} -- cycle;
\addplot[spk=diac] table[x=t, y=lo, y error expr={\thisrow{hi}-\thisrow{lo}}] {\diaspk};
\end{axis}

\begin{axis}[L={499.5pt}{40.35pt}, ymin=0, ymax=310, ytick={0,50,...,300}]
\addplot[fill=red, draw=none] table[x=t,y=v] {\vxdredtab} -- cycle;
\addplot[spk=red] table[x=t, y=lo, y error expr={\thisrow{hi}-\thisrow{lo}}] {\vxdredspk};
\addplot[fill=blue, draw=none] table[x=t,y=v] {\vxdbluetab} -- cycle;
\addplot[spk=blue] table[x=t, y=lo, y error expr={\thisrow{hi}-\thisrow{lo}}] {\vxdbluespk};
\end{axis}

% ================= RIGHT PANEL =================
\begin{axis}[R={56.625pt}{29.975pt}, sm, ymin=0, ymax=50000, ytick={0,10000,...,50000}]
\addplot[lumc, line width=0.6pt] table[x=t,y=v] {\lumtab};
\end{axis}

\begin{axis}[R={86.6pt}{29.975pt}, sm, ymin=0, ymax=1770, ytick={0,500,1000,1500}]
\addplot[red, line width=1.3pt] table[x=t,y=v] {\lertab};
\addplot[blue, line width=1.3pt] table[x=t,y=v] {\hertab};
\end{axis}

\begin{axis}[R={116.575pt}{29.975pt}, sm, ymin=0, ymax=13.2, ytick={0,5,10}]
\addplot[rephb, line width=0.6pt, const plot] coordinates {(0,12.5) (5.44,1) (5.55,5) (5.61,12.5) (6.9,1) (7.07,5) (7.15,12.5) (8.91,12.5)};
\end{axis}

\begin{axis}[R={146.55pt}{29.975pt}, sm, ymin=-0.09, ymax=2.09, ytick={0,0.5,1,1.5,2}]
\addplot[fill=qblue, draw=none] coordinates {(0,1.9) (1,1.93) (2,1.88) (3,1.92) (4,1.9) (5,1.93) (6,1.9) (7,1.92) (8,1.89) (8.95,1.91) (8.95,1.74) (0,1.74)} -- cycle;
\addplot[qgreen, line width=1.4pt] coordinates {(0,1.74) (8.95,1.74)};
\addplot[qblue, only marks, mark=square*, mark size=0.7pt] coordinates {(0.1,0.02) (0.7,0.02) (0.75,0.02) (1.4,0.02) (2.7,0.02) (3.3,0.03) (3.75,0.02) (4.3,0.02) (4.35,0.02) (4.6,0.02) (5.3,0.02) (5.35,0.02) (6.0,0.02) (6.6,0.03) (6.7,0.02) (7.3,0.02) (7.32,0.02) (7.6,0.02) (8.1,0.02) (8.15,0.02) (8.5,0.02) (8.55,0.02) (8.6,0.02)};
\end{axis}

\begin{axis}[R={176.525pt}{29.975pt}, sm, ymin=-0.16, ymax=1.77, ytick={0,0.5,1,1.5}]
\addplot[fill=injp, draw=none] coordinates {(0,0.28) (0.2,0.32) (0.4,0.24) (0.6,0.3) (0.8,0.25) (1.0,0.33) (1.2,0.26) (1.4,0.3) (1.6,0.24) (1.8,0.3) (2.0,0.27) (2.2,0.32) (2.4,0.25) (2.6,0.3) (2.8,0.24) (3.0,0.3) (3.2,0.26) (3.4,0.32) (3.6,0.25) (3.8,0.3) (4.0,0.27) (4.2,0.32) (4.4,0.25) (4.6,0.3) (4.8,0.28) (5.0,0.32) (5.2,0.27) (5.36,0.3) (5.36,-0.05) (5.2,-0.03) (5.0,-0.06) (4.8,-0.02) (4.6,-0.05) (4.4,-0.03) (4.2,-0.06) (4.0,-0.02) (3.8,-0.05) (3.6,-0.03) (3.4,-0.06) (3.2,-0.02) (3.0,-0.05) (2.8,-0.03) (2.6,-0.06) (2.4,-0.02) (2.2,-0.05) (2.0,-0.03) (1.8,-0.06) (1.6,-0.02) (1.4,-0.05) (1.2,-0.03) (1.0,-0.06) (0.8,-0.02) (0.6,-0.05) (0.4,-0.03) (0.2,-0.06) (0,-0.02)} -- cycle;
\addplot[injp, line width=0.8pt, unbounded coords=jump] coordinates {(5.36,0) (5.5,0) (5.5,nan) (6.9,0) (7.05,0) (7.05,nan) (8.88,0) (8.95,0)};
\addplot[injp, line width=2.6pt, line cap=round] coordinates {(5.56,1.45) (5.62,1.35) (5.7,1.3) (5.76,1.2) (5.82,1.05) (5.9,0.95) (6.0,0.72) (6.1,0.5) (6.2,0.38) (6.3,0.25) (6.4,0.18)};
\addplot[fill=injp, draw=none] coordinates {(6.3,0.3) (6.5,0.28) (6.7,0.32) (6.9,0.27) (6.9,-0.04) (6.3,-0.04)} -- cycle;
\addplot[injp, line width=2.6pt, line cap=round] coordinates {(7.08,1.65) (7.12,1.52) (7.2,1.35) (7.3,1.12) (7.4,0.92) (7.5,0.75) (7.6,0.6) (7.7,0.47) (7.8,0.38) (7.9,0.3) (8.0,0.22)};
\addplot[fill=injp, draw=none] coordinates {(8.0,0.32) (8.2,0.35) (8.4,0.3) (8.6,0.38) (8.6,-0.04) (8.0,-0.04)} -- cycle;
\addplot[injp, line width=2.2pt, line cap=round] coordinates {(8.62,0.3) (8.68,0.5) (8.72,0.7) (8.76,0.55) (8.82,0.35) (8.88,0.15)};
\addplot[injp, only marks, mark=square*, mark size=0.8pt] coordinates {(5.5,0.35) (5.52,0.55) (5.53,0.9) (5.6,0.3) (5.65,0.05) (5.72,0.0) (6.02,1.0) (6.95,0.62) (6.98,0.48) (7.02,0.42) (7.05,0.2) (7.35,0.0) (8.7,0.9) (8.74,0.85)};
\end{axis}

\begin{axis}[R={206.5pt}{29.975pt}, sm, ymin=-7, ymax=110, ytick={0,20,...,100}]
\addplot[fill=effc, draw=none] coordinates {(0,12) (0.2,14) (0.4,10) (0.6,13) (0.8,11) (1.0,14) (1.2,10) (1.4,12) (1.6,11) (1.8,14) (2.0,10) (2.2,12) (2.4,11) (2.6,13) (2.8,10) (3.0,12) (3.2,11) (3.4,13) (3.6,10) (3.8,14) (4.0,11) (4.2,12) (4.4,10) (4.6,13) (4.8,11) (5.0,14) (5.2,12) (5.36,11) (5.36,-1) (0,-1)} -- cycle;
\addplot[effc, line width=0.8pt, unbounded coords=jump] coordinates {(5.36,0) (5.5,0) (5.5,nan) (6.9,0) (7.02,0)};
\addplot[effc, line width=2.4pt, line cap=round] coordinates {(5.52,75) (5.55,62) (5.6,70) (5.66,62) (5.72,60) (5.8,52) (5.9,42) (6.0,33) (6.1,22) (6.2,15) (6.3,9)};
\addplot[fill=effc, draw=none] coordinates {(6.3,10) (6.5,8) (6.7,11) (6.9,8) (6.9,-1) (6.3,-1)} -- cycle;
\addplot[effc, line width=2.6pt, line cap=round] coordinates {(7.05,85) (7.1,78) (7.2,70) (7.3,60) (7.4,48) (7.5,38) (7.6,29) (7.7,22) (7.8,15) (7.9,10) (8.0,6)};
\addplot[fill=effc, draw=none] coordinates {(8.0,10) (8.2,8) (8.4,11) (8.6,9) (8.6,-1) (8.0,-1)} -- cycle;
\addplot[effc, line width=2pt, line cap=round] coordinates {(8.6,10) (8.68,20) (8.72,30) (8.78,20) (8.85,8)};
\addplot[effc, only marks, mark=square*, mark size=0.8pt] coordinates {(3.25,90) (5.58,45) (5.62,35) (5.7,25) (5.75,5) (6.0,12) (7.0,30) (7.0,20) (7.02,45) (7.4,70) (7.6,40)};
\end{axis}

\begin{axis}[R={249.2pt}{42.7pt}, ymin=0, ymax=5000, ytick={0,1000,...,5000}]
\addplot[fill=eclg, draw=none] table[x=t,y=v] {\eclfwtab} -- cycle;
\addplot[gaps] table[x=t, y=d, y error expr={5000-\thisrow{d}}] {\eclfwgaps};
\end{axis}

\begin{axis}[R={291.85pt}{42.65pt}, ymin=0, ymax=20, ytick={0,5,...,20}]
\addplot[bgc, line width=0.6pt, const plot] coordinates {(0,19.2) (0.44,20) (0.51,17.6) (0.81,20) (0.96,18.5) (1.0,17.5) (1.2,18.2) (1.25,20) (1.4,19.7) (1.45,20) (1.58,19.5) (1.65,20) (1.8,18.5) (1.84,20) (2.41,18.2) (2.53,17.6) (2.6,20) (2.8,19.6) (2.85,20) (2.97,18) (3.1,20) (3.24,17.6) (3.5,18.2) (3.7,18.8) (3.75,20) (3.87,18.7) (3.95,20) (4.05,18.2) (4.1,20) (4.47,18.7) (4.65,20) (4.83,19.7) (5.18,20) (5.2,17.4) (5.32,20) (5.52,4) (5.64,18.6) (6.37,19.7) (6.42,20) (6.61,19.2) (6.86,20) (7.07,2.6) (7.12,9.9) (7.2,10.6) (7.25,20) (7.3,12.3) (7.34,20) (7.38,15.6) (7.42,4) (7.46,15.6) (7.5,20) (7.54,3) (7.57,20) (8.7,19) (8.74,15.6) (8.78,13.5) (8.82,0) (8.84,18.8) (8.88,20) (8.92,20)};
\end{axis}

\begin{axis}[R={334.55pt}{42.7pt}, ymin=0, ymax=5, ytick={0,1,2,3,4}, clip=false]
\addplot[red, line width=0.6pt] coordinates {(0,0) (8.99,0)};
\addplot[srfw, line width=0.6pt] coordinates {(0,0) (8.99,0)};
\end{axis}

\begin{axis}[R={377.2pt}{42.65pt}, ymin=0, ymax=4, ytick={0,1,2,3,4}]
\addplot[fill=topc, draw=topc, line width=0.4pt] table[x=t,y=v] {\toptab} -- cycle;
\addplot[spk=topc] table[x=t, y=lo, y error expr={\thisrow{hi}-\thisrow{lo}}] {\topspk};
\end{axis}

\begin{axis}[R={419.9pt}{42.7pt}, ymin=0, ymax=300, ytick={0,50,...,300}]
\addplot[fill=cdcav, draw=cdcav, line width=0.4pt] table[x=t,y=v] {\cdcavtab} -- cycle;
\addplot[spk=cdcav] table[x=t, y=lo, y error expr={\thisrow{hi}-\thisrow{lo}}] {\cdcavspk};
\addplot[fill=cdcc, draw=cdcc, line width=0.3pt] table[x=t,y=v] {\cdctab} -- cycle;
\addplot[spk=cdcc] table[x=t, y=lo, y error expr={\thisrow{hi}-\thisrow{lo}}] {\cdcspk};
\end{axis}

\begin{axis}[R={462.55pt}{42.65pt}, ymin=0, ymax=50, ytick={0,10,...,50}]
\addplot[fill=diac, draw=diac, line width=0.3pt] table[x=t,y=v] {\diatab} -- cycle;
\addplot[spk=diac] table[x=t, y=lo, y error expr={\thisrow{hi}-\thisrow{lo}}] {\diaspk};
\end{axis}

\begin{axis}[R={505.25pt}{42.7pt}, ymin=0, ymax=4250, ytick={0,1000,...,4000}]
\addplot[fill=red, draw=red, line width=0.3pt] coordinates {(5.54,0) (5.58,680) (5.62,620) (5.66,0)} \closedcycle;
\addplot[fill=blue, draw=blue, line width=0.4pt] table[x=t,y=v] {\vxdbwtab} \closedcycle;
\end{axis}

% ================= TEXT, LEGENDS =================
\begin{scope}[x=0.5pt, y=-0.5pt]
\draw[canv, line width=1pt] (1,0) -- (1,1062);
\draw[canv, line width=1pt] (901.5,0) -- (901.5,1062);

% left y labels
\node[rotate=90, font=\ylab] at (50,203) {Luminosity};
\node[rotate=90, font=\ylab] at (59,256) {I[mA]};
\node[rotate=90, font=\ylab, align=center] at (67,317) {Rep.\\Rate[Hz]};
\node[rotate=90, font=\ylab] at (82,372) {Q[nC]};
\node[rotate=90, font=\ylab] at (83,430) {[mA/s]};
\node[rotate=90, font=\ylab] at (61,476) {[\%]};
\node[rotate=90, font=\ylabb] at (45,557) {ECL\_BW};
\node[rotate=90, font=\ylabb] at (70,641) {[ms]};
\node[anchor=base west, inner sep=0pt, font=\ttfamily\fontsize{7}{8}\selectfont] at (37,699) {x10\raisebox{3.5pt}{\fontsize{5}{5}\selectfont 6}};
\node[rotate=90, font=\ylab] at (86,717) {[Hz]};
\node[rotate=90, font=\ylabb] at (62,797) {[uA]};
\node[rotate=90, font=\ylabb] at (62,876) {[mRad/s]};
\node[rotate=90, font=\ylabb] at (67,950) {VXD};

% right y labels
\node[rotate=90, font=\ylab] at (952,81) {Luminosity};
\node[rotate=90, font=\ylab] at (960,137) {I[mA]};
\node[rotate=90, font=\ylab, align=center] at (970,203) {Rep.\\Rate[Hz]};
\node[rotate=90, font=\ylab] at (968,261) {Q[nC]};
\node[rotate=90, font=\ylab] at (968,327) {[mA/s]};
\node[rotate=90, font=\ylab] at (968,380) {[\%]};
\node[rotate=90, font=\ylabb] at (955,456) {ECL\_FW};
\node[rotate=90, font=\ylabb] at (972,541) {[ms]};
\node[anchor=base west, inner sep=0pt, font=\ttfamily\fontsize{7}{8}\selectfont] at (937,604) {x10\raisebox{3.5pt}{\fontsize{5}{5}\selectfont 5}};
\node[rotate=90, font=\ylab, align=center] at (979,626) {Photon\\Rate};
\node[anchor=base west, inner sep=0pt, font=\ttfamily\fontsize{7}{8}\selectfont] at (937,690) {x10\raisebox{3.5pt}{\fontsize{5}{5}\selectfont 6}};
\node[rotate=90, font=\ylab] at (984,712) {[Hz]};
\node[rotate=90, font=\ylabb] at (965,797) {[uA]};
\node[rotate=90, font=\ylabb] at (973,883) {[mRad/s]};
\node[rotate=90, font=\ylabb] at (959,966) {VXD};

% time labels left
\node[anchor=base west, inner sep=0pt, font=\tfont] at (86,1026) {0\sh{h}0\sh{m}0\sh{s}};
\foreach \h/\xx in {1/174.3, 2/244.6, 3/315.0, 4/385.3, 5/455.7, 6/526.0, 7/596.3, 8/666.6}
  \node[anchor=base, inner sep=0pt, font=\tfont] at (\xx,1026) {\h\sh{h}};
\node[anchor=base west, inner sep=0pt, font=\tfont] at (50,1050) {3/15/2026};
% time labels right
\node[anchor=base west, inner sep=0pt, font=\tfont] at (985,1037) {0\sh{h}0\sh{m}0\sh{s}};
\foreach \h/\xx in {1/1073.7, 2/1144.1, 3/1214.5, 4/1284.9, 5/1355.3, 6/1425.7, 7/1496.1, 8/1566.5}
  \node[anchor=base, inner sep=0pt, font=\tfont] at (\xx,1037) {\h\sh{h}};
\node[anchor=base west, inner sep=0pt, font=\tfont] at (950,1060) {3/15/2026};

% ---- left legends ----
\lgbox{795.7}{248.3}{880.7}{294}
\lgline{red}{802.3}{841.7}{262.3}
\lgline{blue}{802.3}{841.7}{280.3}
\lgtext{847.7}{262.3}{LER}
\lgtext{847.7}{280.3}{HER}

\lgbox{780.3}{300.3}{880.7}{339.3}
\lgline{reppink}{787.3}{826.7}{319.3}
\node[anchor=base west, inner sep=0pt, font=\bigfont\fontsize{12.1}{13}\selectfont] at (833.3,328.1) {LER};

\lgbox{733.7}{361.7}{880.7}{406.7}
\lgdot{qblue}{741.7}{375}
\lgdot{qgreen}{741.7}{393.3}
\lgtext{766.7}{375}{QMD11P\_1(nC)}
\lgtext{766.7}{393.3}{QMD11P\_2(nC)}

\lgbox{769.3}{417.7}{880.7}{445}
\lgdot{injp}{777.3}{431}
\lgtext{802.3}{431}{Inj.Rate}

\lgbox{724.3}{473.7}{880.7}{536.7}
\lgdot{black}{732.3}{487.3}
\lgdot{gray}{732.3}{505}
\lgtext{757.3}{487.3}{Inj.Eff(BCM1)}
\lgtext{757.3}{505}{Inj.Eff(BCM2)}
\lgtext{757.3}{522.7}{Inj.Eff}

\lgbox{768.7}{533.3}{880.7}{561.7}
\lgline{eclg}{775}{815}{546.7}
\lgtext{820}{546.7}{ECL\_BW}

\lgbox{750.7}{604.3}{881}{650.7}
\lgline{bgc}{757.3}{796.7}{626.7}
\lgtext{802.3}{618.3}{ECL BG}
\lgtext{802.3}{636}{Duration}

\lgbox{750.7}{693.3}{881}{721.7}
\lgline{topc}{757.3}{796.7}{707.3}
\lgtext{802.3}{707.3}{TOP [Hz]}

\lgbox{768.7}{774.3}{881}{820}
\lgline{cdcc}{775.3}{815}{788.3}
\lgline{cdcav}{775.3}{815}{806.3}
\lgtext{820.7}{788.3}{CDC}
\lgtext{820.7}{806.3}{CDC\_av}

\lgbox{759.3}{854.7}{881}{882.7}
\lgline{diac}{766}{806}{868}
\lgtext{811.7}{868}{Diamond}

\lgbox{741.3}{934.3}{881}{980}
\lgline{blue}{748.3}{787.7}{948.3}
\lgline{red}{748.3}{787.7}{966}
\lgtext{793.3}{948.3}{VXD\_FW225}
\lgtext{793.3}{966}{VXD\_FW135}

% ---- right legends ----
\lgbox{1697.3}{128.3}{1782.7}{174}
\lgline{red}{1704}{1744}{142.3}
\lgline{blue}{1704}{1744}{160.3}
\lgtext{1749.3}{142.3}{LER}
\lgtext{1749.3}{160.3}{HER}

\lgbox{1682.3}{183.3}{1782.7}{222.3}
\lgline{rephb}{1689}{1729}{202.7}
\node[anchor=base west, inner sep=0pt, font=\bigfont\fontsize{12.1}{13}\selectfont] at (1734,211.5) {HER};

\lgbox{1644.3}{247.3}{1782.7}{293.3}
\lgdot{qblue}{1652.3}{261.3}
\lgdot{qgreen}{1652.3}{279.3}
\lgtext{1677.3}{261.3}{QMD8E\_1(nC)}
\lgtext{1677.3}{279.3}{QMD8E\_2(nC)}

\lgbox{1671.7}{307.3}{1782.7}{335}
\lgdot{injp}{1679.3}{321.3}
\lgtext{1704.3}{321.3}{Inj.Rate}

\lgbox{1636}{366.7}{1782.7}{430}
\lgdot{black}{1634}{380}
\lgdot{gray}{1634}{397.7}
\lgtext{1660}{380}{Inj.Eff(BCM1)}
\lgtext{1660}{397.7}{Inj.Eff(BCM2)}
\lgtext{1660}{415}{Inj.Eff}

\lgbox{1670.7}{431.7}{1782.7}{458.3}
\lgline{eclg}{1677.3}{1716.7}{444}
\lgtext{1722.3}{444}{ECL\_FW}

\lgbox{1652.6}{506.7}{1783}{552.9}
\lgline{bgc}{1660}{1699}{529.5}
\lgtext{1704.6}{520.2}{ECL BG}
\lgtext{1704.6}{538.6}{Duration}

\lgbox{1680}{600.8}{1783}{647}
\lgline{srfw}{1686}{1726.6}{615}
\lgline{red}{1686}{1726.6}{632.7}
\lgtext{1732.4}{615}{SR\_FW}
\lgtext{1732.4}{632.7}{SR\_BW}

\lgbox{1652.6}{685.8}{1783}{714.5}
\lgline{topc}{1660}{1699}{700.2}
\lgtext{1704.6}{700.2}{TOP [Hz]}

\lgbox{1670.5}{771}{1783}{817.5}
\lgline{cdcc}{1677.5}{1716}{785.2}
\lgline{cdcav}{1677.5}{1716}{803.2}
\lgtext{1722.5}{785.2}{CDC}
\lgtext{1722.5}{803.2}{CDC\_av}

\lgbox{1661.8}{856.8}{1783}{885.4}
\lgline{diac}{1668.8}{1707.5}{871}
\lgtext{1713.8}{871}{Diamond}

\lgbox{1644}{942.7}{1783}{988.5}
\lgline{red}{1650.3}{1690}{955.8}
\lgline{blue}{1650.3}{1690}{974.2}
\lgtext{1694.8}{955.8}{VXD\_BW180}
\lgtext{1694.8}{974.2}{VXD\_BW270}
\end{scope}
\end{tikzpicture}
\end{document}
